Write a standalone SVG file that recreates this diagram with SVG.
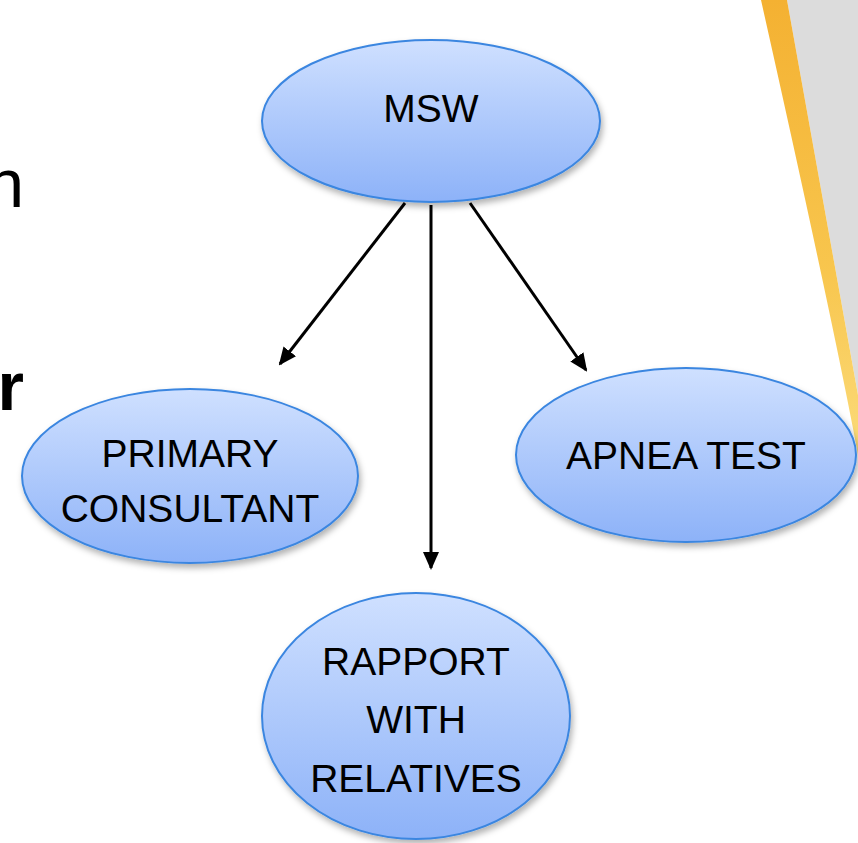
<svg xmlns="http://www.w3.org/2000/svg" width="858" height="843" viewBox="0 0 858 843">
<style>
.node ellipse{fill:url(#g);stroke:#3b86e0;stroke-width:2;filter:url(#sh)}
.node text{font-family:"Liberation Sans",Arial,sans-serif;font-size:39px;fill:#000;text-anchor:middle}
.edge{stroke:#000;stroke-width:3;fill:none;marker-end:url(#ah)}
.side{font-family:"Liberation Sans",Arial,sans-serif;font-size:68px;fill:#000;text-anchor:end}
</style>
<defs>
<linearGradient id="g" x1="0" y1="0" x2="0" y2="1">
<stop offset="0" stop-color="#cfe0ff"/>
<stop offset="1" stop-color="#8db2f8"/>
</linearGradient>
<linearGradient id="og" x1="0" y1="0" x2="0" y2="1">
<stop offset="0" stop-color="#f4b132"/>
<stop offset="0.6" stop-color="#f8c64e"/>
<stop offset="1" stop-color="#fbdb7a"/>
</linearGradient>
<filter id="sh" x="-20%" y="-20%" width="140%" height="150%">
<feDropShadow dx="2" dy="4" stdDeviation="3" flood-color="#000" flood-opacity="0.3"/>
</filter>
<marker id="ah" markerUnits="userSpaceOnUse" markerWidth="18" markerHeight="18" viewBox="0 0 18 18" refX="16" refY="9" orient="auto">
<path d="M0,1 L18,9 L0,17 Z" fill="#000"/>
</marker>
</defs>
<rect width="858" height="843" fill="#fff"/>
<g id="background">
<polygon points="787,0 858,0 858,395" fill="#dcdcdc"/>
<path d="M761,0 L787,0 L858,395 L858,455 Q835,330 761,0 Z" fill="url(#og)"/>
<text class="side" x="24" y="207">n</text>
<text class="side" x="24" y="410" font-weight="bold">r</text>
</g>
<g id="connectors">
<line class="edge" x1="405" y1="203" x2="280" y2="364"/>
<line class="edge" x1="431" y1="205" x2="431" y2="568"/>
<line class="edge" x1="470" y1="203" x2="586" y2="370"/>
</g>
<g id="msw" class="node">
<ellipse cx="431" cy="121" rx="169" ry="81"/>
<text x="431" y="122">MSW</text>
</g>
<g id="primary" class="node">
<ellipse cx="190" cy="476" rx="168" ry="87"/>
<text x="190" y="467">PRIMARY</text>
<text x="190" y="522">CONSULTANT</text>
</g>
<g id="apnea" class="node">
<ellipse cx="686" cy="455" rx="170" ry="87"/>
<text x="686" y="469">APNEA TEST</text>
</g>
<g id="rapport" class="node">
<ellipse cx="416" cy="716" rx="154" ry="123"/>
<text x="416" y="675">RAPPORT</text>
<text x="416" y="733">WITH</text>
<text x="416" y="792">RELATIVES</text>
</g>
</svg>
